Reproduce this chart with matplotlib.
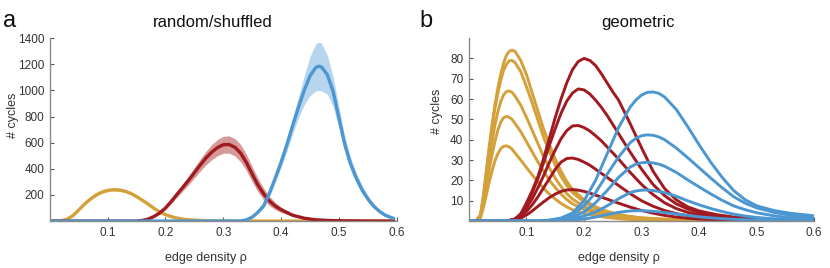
import numpy as np
import matplotlib
matplotlib.use("Agg")
import matplotlib.pyplot as plt

plt.rcParams["font.family"] = ["Liberation Sans", "DejaVu Sans"]

GOLD = "#D4A03A"
RED = "#A01A20"
BLUE = "#4C97D2"
GOLD_BAND = "#EBD5A0"
RED_BAND = "#D49A97"
BLUE_BAND = "#B7D5EE"
TXT = "#333333"

# ---- panel a: random / shuffled (mean and spread) ----
rand_gold_x = [0.0, 0.018, 0.03, 0.04, 0.05, 0.06, 0.07, 0.08, 0.09, 0.10, 0.11, 0.12,
               0.13, 0.14, 0.15, 0.16, 0.17, 0.18, 0.19, 0.20, 0.21, 0.22, 0.23, 0.24,
               0.26, 0.28, 0.30, 0.35, 0.45, 0.595]
rand_gold_y = [0, 0, 15, 42, 85, 130, 168, 199, 222, 235, 240, 238,
               229, 212, 188, 160, 130, 98, 70, 49, 34, 23, 15, 10,
               5, 2, 1, 0, 0, 0]
rand_gold_err = [0, 0, 2, 4, 6, 8, 9, 10, 11, 12, 12, 12,
                 12, 11, 10, 9, 8, 7, 5, 4, 3, 2, 1, 1,
                 0, 0, 0, 0, 0, 0]

rand_red_x = [0.0, 0.10, 0.15, 0.16, 0.17, 0.18, 0.19, 0.20, 0.21, 0.22, 0.23, 0.24, 0.25,
              0.26, 0.27, 0.28, 0.29, 0.30, 0.31, 0.32, 0.33, 0.34, 0.35, 0.36, 0.37,
              0.38, 0.39, 0.40, 0.42, 0.44, 0.46, 0.48, 0.50, 0.55, 0.595]
rand_red_y = [0, 0, 0, 5, 15, 35, 62, 100, 150, 205, 258, 312, 370,
              428, 482, 527, 562, 584, 586, 565, 520, 448, 360, 275, 207,
              153, 115, 87, 45, 22, 10, 5, 2.5, 0.5, 0]
rand_red_err = [0, 0, 0, 1, 3, 5, 8, 12, 16, 22, 28, 34, 40,
                46, 52, 58, 62, 65, 66, 66, 66, 62, 58, 52, 45,
                36, 28, 20, 10, 5, 2, 1, 0, 0, 0]

rand_blue_x = [0.0, 0.33, 0.34, 0.35, 0.36, 0.37, 0.38, 0.39, 0.40, 0.41, 0.42, 0.43,
               0.44, 0.45, 0.46, 0.465, 0.47, 0.48, 0.49, 0.50, 0.51, 0.52, 0.53,
               0.54, 0.55, 0.56, 0.57, 0.58, 0.59, 0.595]
rand_blue_y = [0, 0, 10, 30, 68, 118, 215, 330, 450, 585, 730, 870,
               1000, 1110, 1175, 1185, 1178, 1120, 990, 790, 590, 440, 330,
               240, 170, 115, 75, 45, 28, 20]
rand_blue_err = [0, 0, 3, 6, 10, 16, 24, 32, 40, 50, 62, 80,
                 110, 150, 180, 185, 182, 150, 115, 80, 62, 50, 40,
                 32, 25, 18, 12, 8, 5, 4]

# ---- panel b: geometric (one curve per network size) ----
geo_gold_x = [0.0, 0.012, 0.02, 0.025, 0.03, 0.035, 0.04, 0.045, 0.05, 0.055, 0.06, 0.065,
              0.07, 0.075, 0.08, 0.09, 0.10, 0.11, 0.12, 0.13, 0.14, 0.15, 0.16, 0.17,
              0.18, 0.20, 0.22, 0.24, 0.26, 0.28, 0.30, 0.35, 0.40, 0.45, 0.6]
geo_gold = [
    [0, 0, 3, 12, 24, 36, 47, 57, 65, 72, 77.5, 81.5,
     83.5, 84, 83.5, 79, 72, 63, 54, 45, 37.5, 30.5, 24.5, 19.5,
     15.5, 10.5, 7, 4.8, 3.3, 2.3, 1.6, 0.8, 0.4, 0.2, 0],
    [0, 0, 3, 12, 23.5, 35, 45.5, 55, 62.5, 69, 74, 77,
     78.8, 79, 78, 73.5, 66, 58, 49.5, 41, 34, 27.5, 22, 17.5,
     14, 9.3, 6.3, 4.3, 3, 2.1, 1.5, 0.7, 0.35, 0.15, 0],
    [0, 0, 2.5, 10, 20, 30, 39, 47, 53.5, 58.5, 62, 63.7,
     64, 63.3, 61.5, 57, 51, 44.5, 38, 31.5, 26, 21, 17, 13.5,
     10.8, 7.2, 4.8, 3.3, 2.3, 1.6, 1.1, 0.5, 0.25, 0.1, 0],
    [0, 0, 2, 8.5, 17, 25, 32.5, 39, 44.5, 48.5, 50.8, 51.5,
     51, 50, 48, 44, 39, 34, 29, 24.5, 20, 16.5, 13.3, 10.6,
     8.5, 5.7, 3.8, 2.6, 1.8, 1.2, 0.9, 0.4, 0.2, 0.05, 0],
    [0, 0, 1.5, 6.5, 12.5, 19, 24.5, 29.5, 33, 35.5, 36.8, 37,
     36.5, 35.3, 33.5, 30, 26.3, 22.7, 19.3, 16, 13.2, 10.8, 8.7, 7,
     5.6, 3.8, 2.6, 1.8, 1.2, 0.8, 0.6, 0.3, 0.15, 0.05, 0],
]

geo_red_x = [0.0, 0.065, 0.08, 0.09, 0.10, 0.11, 0.12, 0.13, 0.14, 0.15, 0.16, 0.17,
             0.18, 0.19, 0.20, 0.21, 0.22, 0.23, 0.24, 0.25, 0.26, 0.28, 0.30, 0.32,
             0.34, 0.36, 0.38, 0.40, 0.43, 0.46, 0.50, 0.55, 0.6]
geo_red = [
    [0, 0, 1, 3.5, 9, 15, 22, 31, 41, 51, 60, 68,
     74.5, 78.5, 80, 79, 76.5, 72.5, 68, 63.5, 59.5, 48, 36, 24.5,
     16, 10.5, 7, 5, 3.2, 2, 1, 0.3, 0.1],
    [0, 0, 1, 3.5, 8, 14, 21, 29, 37.5, 45.5, 53, 59,
     63, 65, 64.5, 62.5, 59.5, 56, 52, 47.5, 43, 34, 25.5, 18,
     12.5, 8.5, 6, 4.2, 2.6, 1.6, 0.8, 0.3, 0.1],
    [0, 0, 1, 3, 6.5, 11, 16.5, 22.5, 29, 35, 40.5, 44.5,
     46.8, 47, 46, 44.3, 42, 39.5, 36.5, 33.5, 30.5, 24, 18, 13,
     9, 6.2, 4.3, 3, 1.9, 1.2, 0.6, 0.2, 0.1],
    [0, 0, 0.8, 2.3, 4.8, 8, 12, 16.5, 21, 25.5, 29, 30.8,
     31, 30.3, 29, 27.5, 25.5, 23.5, 21.5, 19.5, 17.5, 13.5, 10, 7.3,
     5.2, 3.7, 2.6, 1.8, 1.1, 0.7, 0.35, 0.1, 0],
    [0, 0, 0.5, 1.4, 3, 5, 7.3, 9.5, 11.6, 13.3, 14.6, 15.3,
     15.5, 15.2, 14.6, 13.8, 12.8, 11.8, 10.8, 9.8, 8.8, 6.9, 5.2, 3.9,
     2.8, 2, 1.4, 1, 0.6, 0.4, 0.2, 0.1, 0],
]

geo_blue_x = [0.0, 0.12, 0.14, 0.16, 0.18, 0.20, 0.22, 0.24, 0.26, 0.28, 0.29, 0.30, 0.31,
              0.32, 0.33, 0.34, 0.36, 0.38, 0.40, 0.42, 0.44, 0.46, 0.48, 0.50, 0.53,
              0.56, 0.6]
geo_blue = [
    [0, 0, 0.5, 1.5, 4, 10, 20, 33, 46, 56, 59.5, 62, 63.3,
     63.5, 62.8, 61, 55, 46.5, 37.5, 29, 21.5, 15, 10.5, 7.5, 5.2,
     3.8, 2.6],
    [0, 0, 0.4, 1.2, 3, 7.5, 14, 23, 31.5, 38.5, 40.7, 42, 42.4,
     42.2, 41.4, 40, 36, 31.2, 26.2, 21.2, 16.4, 12, 8.8, 6.5, 4.3,
     2.8, 1.5],
    [0, 0, 0, 0.8, 2, 4.5, 9, 15, 21.5, 26.5, 28, 28.7, 28.9,
     28.6, 28, 27, 24, 20.3, 16.8, 13.4, 10.2, 7.5, 5.6, 4.1, 2.6,
     1.6, 0.8],
    [0, 0, 0, 0.5, 1.2, 2.5, 4.5, 7.5, 11, 14, 14.8, 15.2, 15.3,
     15, 14.6, 14, 12.2, 10, 8, 6.2, 4.7, 3.4, 2.5, 1.8, 1.1,
     0.7, 0.3],
    [0, 0, 0, 0.2, 0.5, 1, 2, 3.2, 4.3, 5, 5.1, 5.1, 5,
     4.8, 4.5, 4.2, 3.5, 2.8, 2.1, 1.6, 1.2, 0.9, 0.7, 0.5, 0.3,
     0.2, 0.1],
]

fig = plt.figure(figsize=(8.3, 2.68), dpi=100)
ax1 = fig.add_axes([0.060, 0.175, 0.418, 0.683])
ax2 = fig.add_axes([0.565, 0.175, 0.416, 0.683])


def style_axis(ax):
    for side in ("top", "right"):
        ax.spines[side].set_visible(False)
    ax.spines["left"].set_color("#8a8a8a")
    ax.spines["bottom"].set_color("#8a8a8a")
    ax.spines["left"].set_linewidth(1.0)
    ax.spines["bottom"].set_linewidth(1.0)
    ax.tick_params(direction="in", length=3, width=0.8, color="#555555",
                   labelsize=8.5, labelcolor=TXT, pad=4)
    ax.set_xlabel("edge density ρ", fontsize=9, color=TXT, labelpad=6)
    ax.set_ylabel("# cycles", fontsize=9, color=TXT, labelpad=6)


# panel a
for xs, ys, err, c, band in [
    (rand_gold_x, rand_gold_y, rand_gold_err, GOLD, GOLD_BAND),
    (rand_red_x, rand_red_y, rand_red_err, RED, RED_BAND),
    (rand_blue_x, rand_blue_y, rand_blue_err, BLUE, BLUE_BAND),
]:
    xs = np.array(xs)
    ys = np.array(ys, dtype=float)
    err = np.array(err, dtype=float)
    ax1.fill_between(xs, ys - err, ys + err, color=band, lw=0, zorder=1)
    ax1.plot(xs, ys, color=c, lw=2.4, solid_capstyle="round", zorder=2)

ax1.set_xlim(0, 0.595)
ax1.set_ylim(0, 1400)
ax1.set_xticks([0.1, 0.2, 0.3, 0.4, 0.5, 0.6])
ax1.set_xticklabels(["0.1", "0.2", "0.3", "0.4", "0.5", "0.6"])
ax1.set_yticks([200, 400, 600, 800, 1000, 1200, 1400])
style_axis(ax1)
ax1.xaxis.get_ticklabels()[-1].set_clip_on(False)
ax1.set_title("random/shuffled", fontsize=12, color="#111111", pad=8, x=0.47)
ax1.xaxis.set_label_coords(0.45, -0.17)
ax1.yaxis.set_label_coords(-0.09, 0.58)
fig.text(0.004, 0.90, "a", fontsize=17, color="#111111")

# panel b
for xs, group, c in [(geo_gold_x, geo_gold, GOLD), (geo_red_x, geo_red, RED),
                     (geo_blue_x, geo_blue, BLUE)]:
    for ys in group:
        ax2.plot(xs, ys, color=c, lw=2.1, solid_capstyle="round", zorder=2)

ax2.set_xlim(0, 0.6)
ax2.set_ylim(0, 90)
ax2.set_xticks([0.1, 0.2, 0.3, 0.4, 0.5, 0.6])
ax2.set_xticklabels(["0.1", "0.2", "0.3", "0.4", "0.5", "0.6"])
ax2.set_yticks([10, 20, 30, 40, 50, 60, 70, 80])
style_axis(ax2)
ax2.set_title("geometric", fontsize=12, color="#111111", pad=8, x=0.49)
ax2.xaxis.set_label_coords(0.435, -0.17)
ax2.yaxis.set_label_coords(-0.075, 0.60)
fig.text(0.505, 0.90, "b", fontsize=17, color="#111111")

fig.savefig("out.png", dpi=100)
